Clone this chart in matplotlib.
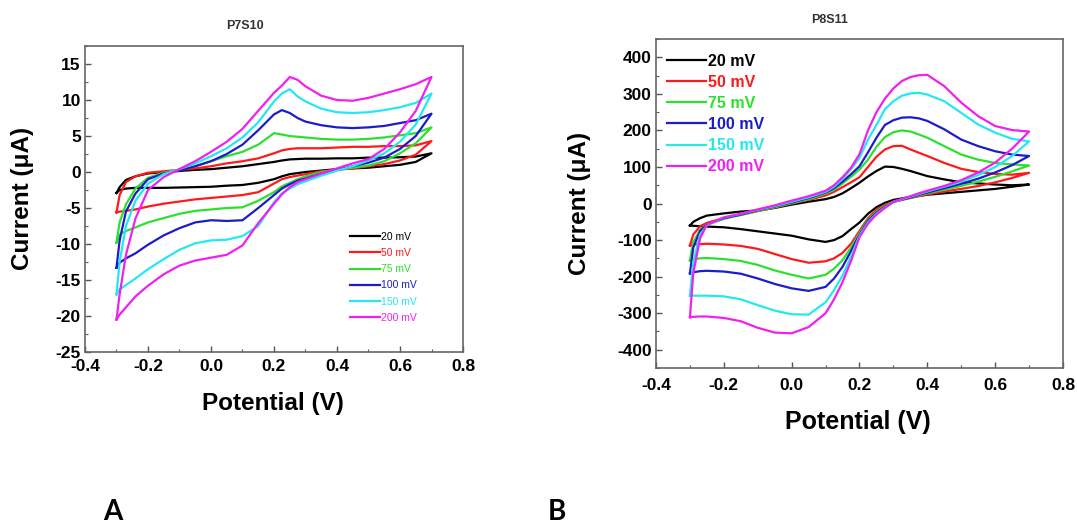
import matplotlib
matplotlib.use('Agg')
import matplotlib.pyplot as plt
from matplotlib.ticker import MultipleLocator, FormatStrFormatter

plt.rcParams['font.family'] = 'Liberation Sans'
plt.rcParams['font.weight'] = 'bold'
plt.rcParams['axes.unicode_minus'] = False

RATES = ['20 mV', '50 mV', '75 mV', '100 mV', '150 mV', '200 mV']
COLORS = ['#000000', '#ff1a1a', '#2ee02e', '#1c1cc8', '#24e8f0', '#f020f0']

# ---- panel A : P7S10 (current in uA) ----
XA = [-0.3, -0.29, -0.27, -0.24, -0.2, -0.15, -0.1, -0.05, 0.0, 0.05, 0.1, 0.15,
      0.2, 0.225, 0.25, 0.275, 0.3, 0.35, 0.4, 0.45, 0.5, 0.55, 0.6, 0.65, 0.7]

# anodic (upper) branch for each scan rate
A_UPPER = [
    [-2.9, -2.1, -1.1, -0.6, -0.2, 0.0, 0.15, 0.3, 0.4, 0.6, 0.8, 1.1,
     1.4, 1.6, 1.75, 1.8, 1.85, 1.85, 1.9, 1.9, 2.0, 2.0, 2.05, 2.15, 2.6],
    [-5.6, -3.2, -1.4, -0.6, -0.1, 0.1, 0.3, 0.5, 0.8, 1.2, 1.5, 1.9,
     2.6, 3.0, 3.2, 3.3, 3.3, 3.3, 3.4, 3.5, 3.5, 3.6, 3.6, 3.7, 4.3],
    [-9.8, -7.0, -4.5, -2.3, -0.8, -0.1, 0.3, 0.8, 1.5, 2.2, 2.8, 3.8,
     5.4, 5.2, 5.0, 4.9, 4.8, 4.6, 4.5, 4.5, 4.6, 4.8, 5.1, 5.4, 6.2],
    [-13.3, -9.5, -5.5, -3.0, -1.0, -0.2, 0.2, 0.8, 1.5, 2.5, 3.8, 5.8,
     8.0, 8.6, 8.2, 7.5, 7.0, 6.5, 6.2, 6.1, 6.2, 6.4, 6.8, 7.2, 8.1],
    [-17.0, -12.5, -7.5, -4.0, -1.6, -0.3, 0.4, 1.2, 2.2, 3.3, 4.8, 6.9,
     9.8, 10.9, 11.5, 10.5, 9.8, 8.8, 8.3, 8.2, 8.3, 8.6, 9.0, 9.6, 10.9],
    [-20.5, -17.0, -11.5, -6.5, -2.5, -0.7, 0.4, 1.5, 2.8, 4.2, 6.0, 8.5,
     11.0, 12.0, 13.2, 12.8, 11.9, 10.6, 10.0, 9.9, 10.3, 10.9, 11.5, 12.2, 13.2],
]

# cathodic (lower) branch for each scan rate
A_LOWER = [
    [-2.9, -2.5, -2.3, -2.2, -2.2, -2.2, -2.15, -2.1, -2.05, -1.9, -1.8, -1.5,
     -1.0, -0.6, -0.3, -0.15, 0.0, 0.2, 0.4, 0.5, 0.6, 0.8, 1.0, 1.4, 2.6],
    [-5.6, -5.5, -5.4, -5.2, -4.8, -4.4, -4.1, -3.8, -3.6, -3.4, -3.2, -2.8,
     -1.6, -1.0, -0.7, -0.5, -0.3, 0.1, 0.3, 0.5, 0.8, 1.1, 1.6, 2.4, 4.3],
    [-9.8, -8.7, -8.2, -7.7, -7.0, -6.4, -5.8, -5.4, -5.2, -5.0, -4.9, -4.0,
     -2.8, -2.0, -1.5, -1.0, -0.6, 0.0, 0.3, 0.6, 0.9, 1.5, 2.6, 4.0, 6.2],
    [-13.3, -12.6, -12.0, -11.3, -10.1, -8.8, -7.8, -7.0, -6.7, -6.8, -6.7, -5.0,
     -3.2, -2.3, -1.7, -1.2, -0.9, -0.2, 0.3, 0.8, 1.3, 2.0, 3.2, 5.0, 8.1],
    [-17.0, -16.3, -15.7, -14.8, -13.5, -12.1, -10.8, -9.9, -9.5, -9.4, -8.9, -7.5,
     -4.2, -3.0, -2.3, -1.7, -1.3, -0.5, 0.2, 0.8, 1.6, 2.6, 4.2, 6.6, 10.9],
    [-20.5, -19.8, -18.8, -17.3, -15.8, -14.2, -13.0, -12.3, -11.9, -11.5, -10.2, -7.1,
     -4.4, -3.1, -2.1, -1.4, -1.0, -0.2, 0.5, 1.2, 1.8, 3.2, 5.5, 8.5, 13.2],
]

# ---- panel B : P8S11 (current in uA) ----
XB = [-0.3, -0.29, -0.27, -0.25, -0.2, -0.15, -0.1, -0.05, 0.0, 0.05, 0.1, 0.125,
      0.15, 0.175, 0.2, 0.225, 0.25, 0.275, 0.3, 0.325, 0.35, 0.375, 0.4, 0.45,
      0.5, 0.55, 0.6, 0.65, 0.7]

B_UPPER = [
    [-60, -50, -40, -33, -27, -22, -19, -12, -3, 5, 12, 18,
     28, 42, 57, 74, 89, 101, 100, 95, 89, 82, 75, 66,
     58, 55, 52, 50, 52],
    [-115, -85, -62, -53, -40, -31, -21, -11, 0, 10, 22, 32,
     45, 58, 72, 100, 128, 148, 157, 158, 148, 139, 130, 111,
     95, 86, 81, 79, 84],
    [-156, -105, -72, -57, -42, -31, -20, -10, 1, 12, 27, 38,
     55, 73, 93, 120, 155, 182, 195, 200, 197, 189, 180, 157,
     134, 120, 111, 107, 104],
    [-191, -120, -75, -58, -40, -30, -18, -8, 3, 15, 30, 42,
     60, 80, 102, 140, 180, 215, 228, 235, 236, 233, 226, 203,
     175, 157, 143, 134, 130],
    [-252, -160, -85, -60, -38, -28, -17, -7, 5, 17, 32, 46,
     67, 94, 125, 175, 215, 258, 280, 295, 301, 303, 298, 280,
     248, 216, 194, 177, 170],
    [-311, -190, -95, -58, -38, -28, -16, -5, 8, 20, 35, 50,
     72, 98, 135, 200, 250, 287, 315, 335, 346, 351, 352, 321,
     276, 239, 212, 201, 197],
]

B_LOWER = [
    [-60, -61, -62, -63, -65, -70, -76, -82, -88, -98, -105, -100,
     -89, -70, -52, -28, -10, 2, 10, 14, 18, 21, 24, 28,
     32, 36, 40, 46, 52],
    [-115, -112, -111, -110, -112, -116, -124, -138, -152, -162, -158, -150,
     -135, -110, -75, -40, -17, -4, 5, 10, 15, 20, 25, 33,
     40, 48, 58, 70, 84],
    [-156, -152, -150, -149, -152, -157, -168, -183, -195, -205, -195, -178,
     -155, -120, -80, -45, -22, -7, 5, 11, 16, 22, 28, 38,
     48, 60, 73, 88, 104],
    [-191, -188, -185, -184, -186, -192, -205, -220, -232, -239, -228, -205,
     -173, -130, -85, -48, -25, -9, 4, 11, 17, 24, 30, 42,
     54, 68, 85, 105, 130],
    [-252, -252, -252, -252, -254, -262, -278, -293, -303, -304, -270, -237,
     -197, -145, -88, -52, -28, -11, 4, 12, 19, 26, 33, 46,
     60, 78, 100, 130, 170],
    [-311, -310, -309, -309, -313, -322, -340, -353, -355, -338, -300, -262,
     -215, -157, -92, -55, -30, -12, 5, 13, 20, 28, 35, 48,
     64, 85, 112, 150, 197],
]


def draw_cv(ax, x, upper, lower):
    """Draw each closed CV loop: upper branch forward, lower branch back."""
    for up, low, col, lab in zip(upper, lower, COLORS, RATES):
        xs = list(x) + list(x[::-1])
        ys = list(up) + list(low[::-1])
        ax.plot(xs, ys, color=col, lw=1.6, label=lab, solid_joinstyle='round')


def style_axes(ax, ymaj, ymin, pad):
    ax.set_xlim(-0.4, 0.8)
    ax.set_xticks([-0.4, -0.2, 0.0, 0.2, 0.4, 0.6, 0.8])
    ax.xaxis.set_major_formatter(FormatStrFormatter('%.1f'))
    ax.xaxis.set_minor_locator(MultipleLocator(0.1))
    ax.yaxis.set_major_locator(MultipleLocator(ymaj))
    ax.yaxis.set_minor_locator(MultipleLocator(ymin))
    ax.tick_params(which='both', direction='in', top=False, right=False,
                   labelsize=12.5, color='#555555')
    ax.tick_params(axis='x', pad=pad)
    ax.tick_params(axis='y', pad=3)
    ax.tick_params(which='major', length=4, width=1)
    ax.tick_params(which='minor', length=2.5, width=0.8)
    for s in ax.spines.values():
        s.set_color('#666666')
        s.set_linewidth(1.2)


fig = plt.figure(figsize=(10.77, 5.29), dpi=100)

# panel A
axA = fig.add_axes([0.0789, 0.3346, 0.351, 0.5784])
draw_cv(axA, XA, A_UPPER, A_LOWER)
style_axes(axA, 5, 2.5, 5)
axA.set_ylim(-25, 17.5)
legA = axA.legend(loc='lower left', bbox_to_anchor=(0.70, 0.095), frameon=False,
                  borderpad=0, borderaxespad=0, handlelength=2.9, handletextpad=0.1,
                  labelspacing=0.6, prop={'size': 7.5, 'weight': 'normal'})
for txt, col in zip(legA.get_texts(), COLORS):
    txt.set_color(col)
fig.text(0.2275, 0.951, 'P7S10', fontsize=9, ha='center', va='center', color='#333333')
fig.text(0.2535, 0.238, 'Potential (V)', fontsize=17.5, ha='center', va='center')
fig.text(0.021, 0.624, 'Current (μA)', fontsize=17.5, ha='center', va='center',
         rotation=90)

# panel B
axB = fig.add_axes([0.6091, 0.3043, 0.3779, 0.6219])
draw_cv(axB, XB, B_UPPER, B_LOWER)
style_axes(axB, 100, 50, 7)
axB.set_ylim(-450, 450)
legB = axB.legend(loc='upper left', bbox_to_anchor=(0.027, 0.955), frameon=False,
                  borderpad=0, borderaxespad=0, handlelength=2.45, handletextpad=0.1,
                  labelspacing=0.38, prop={'size': 11.5, 'weight': 'bold'})
for txt, col in zip(legB.get_texts(), COLORS):
    txt.set_color(col)
fig.text(0.7707, 0.962, 'P8S11', fontsize=9, ha='center', va='center', color='#333333')
fig.text(0.797, 0.2023, 'Potential (V)', fontsize=18, ha='center', va='center')
fig.text(0.5385, 0.615, 'Current (μA)', fontsize=17.5, ha='center', va='center',
         rotation=90)

# panel letters
fig.text(0.105, 0.032, 'A', fontsize=20, ha='center', va='center', family='Lato')
fig.text(0.517, 0.032, 'B', fontsize=20, ha='center', va='center', family='Lato')

fig.savefig('out.png', dpi=100)
